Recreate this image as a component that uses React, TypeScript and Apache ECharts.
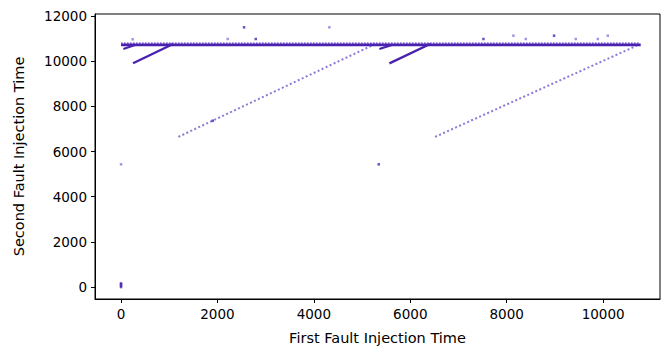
import React, { useEffect, useRef } from 'react';
import * as echarts from 'echarts';

const xTickValues = [0, 2000, 4000, 6000, 8000, 10000];
const yTickValues = [0, 2000, 4000, 6000, 8000, 10000, 12000];

// main horizontal band (dense points)
const bandDark = [[0, 10720], [10780, 10720]];
const bandLight = [[0, 10800], [10740, 10800]];

// diagonal runs of points
const diagLight1 = [[1190, 6650], [5300, 10790]];
const diagLight2 = [[6515, 6650], [10700, 10690]];
const diagDark1 = [[249, 9910], [1080, 10760]];
const diagDark2 = [[5567, 9907], [6411, 10762]];
const stubDark1 = [[48, 10540], [290, 10720]];
const stubDark2 = [[5359, 10540], [5620, 10720]];

// isolated points
const lightPoints = [
  [242, 10970], [2213, 10983], [4322, 11500], [8139, 11130], [8396, 10983],
  [9433, 10983], [9890, 10983], [10097, 11130], [0, 5434],
];
const darkPoints = [
  [2552, 11500], [2794, 10983], [7517, 10983], [8983, 11130], [1902, 7365],
  [5346, 5434], [0, 0], [0, 60], [0, 120], [0, 160],
];

const DARK = '#4a22b0';
const LIGHT = '#8f78d8';
const FONT = 'DejaVu Sans';

function seg(data: number[][], color: string, width: number, type: any, z = 2) {
  return {
    type: 'line',
    data,
    symbol: 'none',
    showSymbol: false,
    silent: true,
    z,
    lineStyle: { color, width, type, cap: 'butt' },
  };
}

export default function App() {
  const ref = useRef<HTMLDivElement>(null);
  useEffect(() => {
    const chart = echarts.init(ref.current!, null, { renderer: 'svg' });
    chart.setOption({
      animation: false,
      backgroundColor: '#ffffff',
      grid: {
        left: 95, right: 2, top: 14, bottom: 47,
        containLabel: false, outerBoundsMode: 'none',
        show: true, borderColor: '#000', borderWidth: 1, backgroundColor: 'transparent',
      },
      xAxis: {
        type: 'value', min: -540, max: 11180,
        name: 'First Fault Injection Time', nameLocation: 'middle', nameGap: 31,
        nameTextStyle: { fontFamily: FONT, fontSize: 14.5, color: '#000' },
        axisLine: { show: true, onZero: false, lineStyle: { color: '#000', width: 1 } },
        axisTick: { show: true, length: 4, customValues: xTickValues, lineStyle: { color: '#000' } },
        axisLabel: {
          customValues: xTickValues, margin: 8, fontFamily: FONT, fontSize: 13.5, color: '#000',
          formatter: (v: number) => String(v),
        },
        splitLine: { show: false },
      },
      yAxis: {
        type: 'value', min: -530, max: 12090,
        name: 'Second Fault Injection Time', nameLocation: 'middle', nameGap: 69, nameRotate: 90,
        nameTextStyle: { fontFamily: FONT, fontSize: 14.5, color: '#000' },
        axisLine: { show: true, onZero: false, lineStyle: { color: '#000', width: 1 } },
        axisTick: { show: true, length: 4, customValues: yTickValues, lineStyle: { color: '#000' } },
        axisLabel: {
          customValues: yTickValues, margin: 8, fontFamily: FONT, fontSize: 13.5, color: '#000',
          formatter: (v: number) => String(v),
        },
        splitLine: { show: false },
      },
      series: [
        seg(bandLight, LIGHT, 1.8, [1.6, 1.4], 2),
        seg(bandDark, DARK, 2.8, 'solid', 3),
        seg(diagLight1, LIGHT, 2, [2, 2.4], 2),
        seg(diagLight2, LIGHT, 2, [2, 2.4], 2),
        seg(diagDark1, DARK, 2.4, 'solid', 3),
        seg(diagDark2, DARK, 2.4, 'solid', 3),
        seg(stubDark1, DARK, 2, 'solid', 3),
        seg(stubDark2, DARK, 2, 'solid', 3),
        {
          type: 'scatter', data: lightPoints, symbol: 'rect', symbolSize: 2.5,
          itemStyle: { color: LIGHT }, silent: true, z: 4,
        },
        {
          type: 'scatter', data: darkPoints, symbol: 'rect', symbolSize: 2.5,
          itemStyle: { color: DARK }, silent: true, z: 5,
        },
      ],
    });
    return () => chart.dispose();
  }, []);
  return <div ref={ref} style={{ position: 'fixed', left: 0, top: 0, width: 662, height: 346 }} />;
}
